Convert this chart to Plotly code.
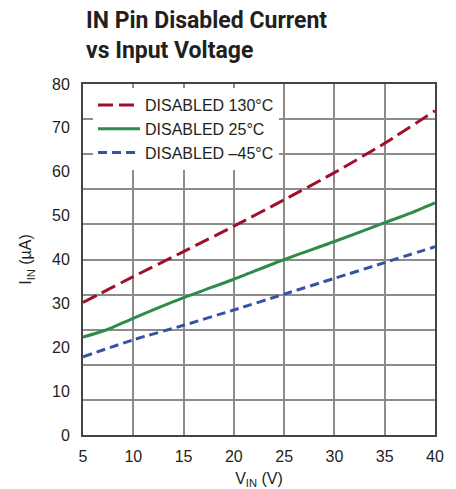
import plotly.graph_objects as go

# Data
vin = [5, 10, 15, 20, 25, 30, 35, 40]
i_130c = [30.2, 36.1, 41.8, 47.6, 53.6, 59.8, 66.5, 73.9]
vin_25 = [5, 7.5, 10, 15, 17.5, 20, 25, 30, 35, 37.5, 40]
i_25c = [22.3, 24.1, 26.6, 31.3, 33.4, 35.5, 40.0, 44.1, 48.4, 50.5, 52.9]
i_m45c = [17.8, 21.7, 25.0, 28.5, 32.1, 35.7, 39.3, 42.9]

x_ticks = [5, 10, 15, 20, 25, 30, 35, 40]
y_ticks = [0, 10, 20, 30, 40, 50, 60, 70, 80]
y_grid = [0, 8, 16, 24, 32, 40, 48, 56, 64, 72, 80]

TXT = "#231f20"
FONT = "Liberation Sans, Arial, sans-serif"
TITLE_FONT = "Roboto, Liberation Sans, sans-serif"

fig = go.Figure()
fig.add_trace(go.Scatter(x=vin, y=i_130c, mode="lines", name="DISABLED 130°C", yaxis="y",
                         line=dict(color="#a0102c", width=3, dash="15px,6px", shape="spline", smoothing=0.6)))
fig.add_trace(go.Scatter(x=vin_25, y=i_25c, mode="lines", name="DISABLED 25°C", yaxis="y2",
                         line=dict(color="#2e8b4a", width=3, shape="spline", smoothing=0.6)))
fig.add_trace(go.Scatter(x=vin, y=i_m45c, mode="lines", name="DISABLED –45°C", yaxis="y2",
                         line=dict(color="#3553a4", width=3, dash="9px,5px", shape="spline", smoothing=0.6)))

fig.add_annotation(text="<b>IN Pin Disabled Current<br>vs Input Voltage</b>",
                   xref="paper", yref="paper", x=1/352, y=1 + 79/351,
                   xanchor="left", yanchor="top", align="left", showarrow=False,
                   font=dict(family=TITLE_FONT, size=23, color=TXT))

fig.update_layout(
    width=456, height=489,
    margin=dict(l=83, r=21, t=84, b=54, autoexpand=False),
    paper_bgcolor="white", plot_bgcolor="white",
    font=dict(family=FONT, size=16, color=TXT),
    showlegend=True,
    legend=dict(x=10/352, y=1 - 4/351, xanchor="left", yanchor="top",
                bgcolor="white", borderwidth=0,
                font=dict(family=FONT, size=16, color=TXT),
                itemwidth=42, tracegroupgap=0),
    xaxis=dict(range=[5, 40], tickvals=x_ticks, showgrid=True,
               gridcolor="#8c8c8c", gridwidth=1.5,
               showline=True, linecolor="#444", linewidth=2, mirror=True,
               ticks="", ticklabelstandoff=6, zeroline=False, automargin=False,
               tickfont=dict(size=16, color=TXT),
               title=dict(text="V<sub>IN</sub> (V)", font=dict(size=16, color=TXT), standoff=9)),
    yaxis=dict(range=[0, 80], tickvals=y_ticks, showgrid=False,
               showline=True, linecolor="#444", linewidth=2, mirror=True,
               ticks="", ticklabelstandoff=8, zeroline=False, automargin=False,
               tickfont=dict(size=16, color=TXT),
               title=dict(text="I<sub>IN</sub> (µA)", font=dict(size=16, color=TXT), standoff=16)),
    yaxis2=dict(range=[0, 80], tickvals=y_grid, overlaying="y", anchor="x",
                showgrid=True, gridcolor="#8c8c8c", gridwidth=1.5,
                showticklabels=False, ticks="", showline=False, zeroline=False),
)

fig.write_html("out.html", config={"displayModeBar": False},
               post_script="document.body.style.margin='0px';")
